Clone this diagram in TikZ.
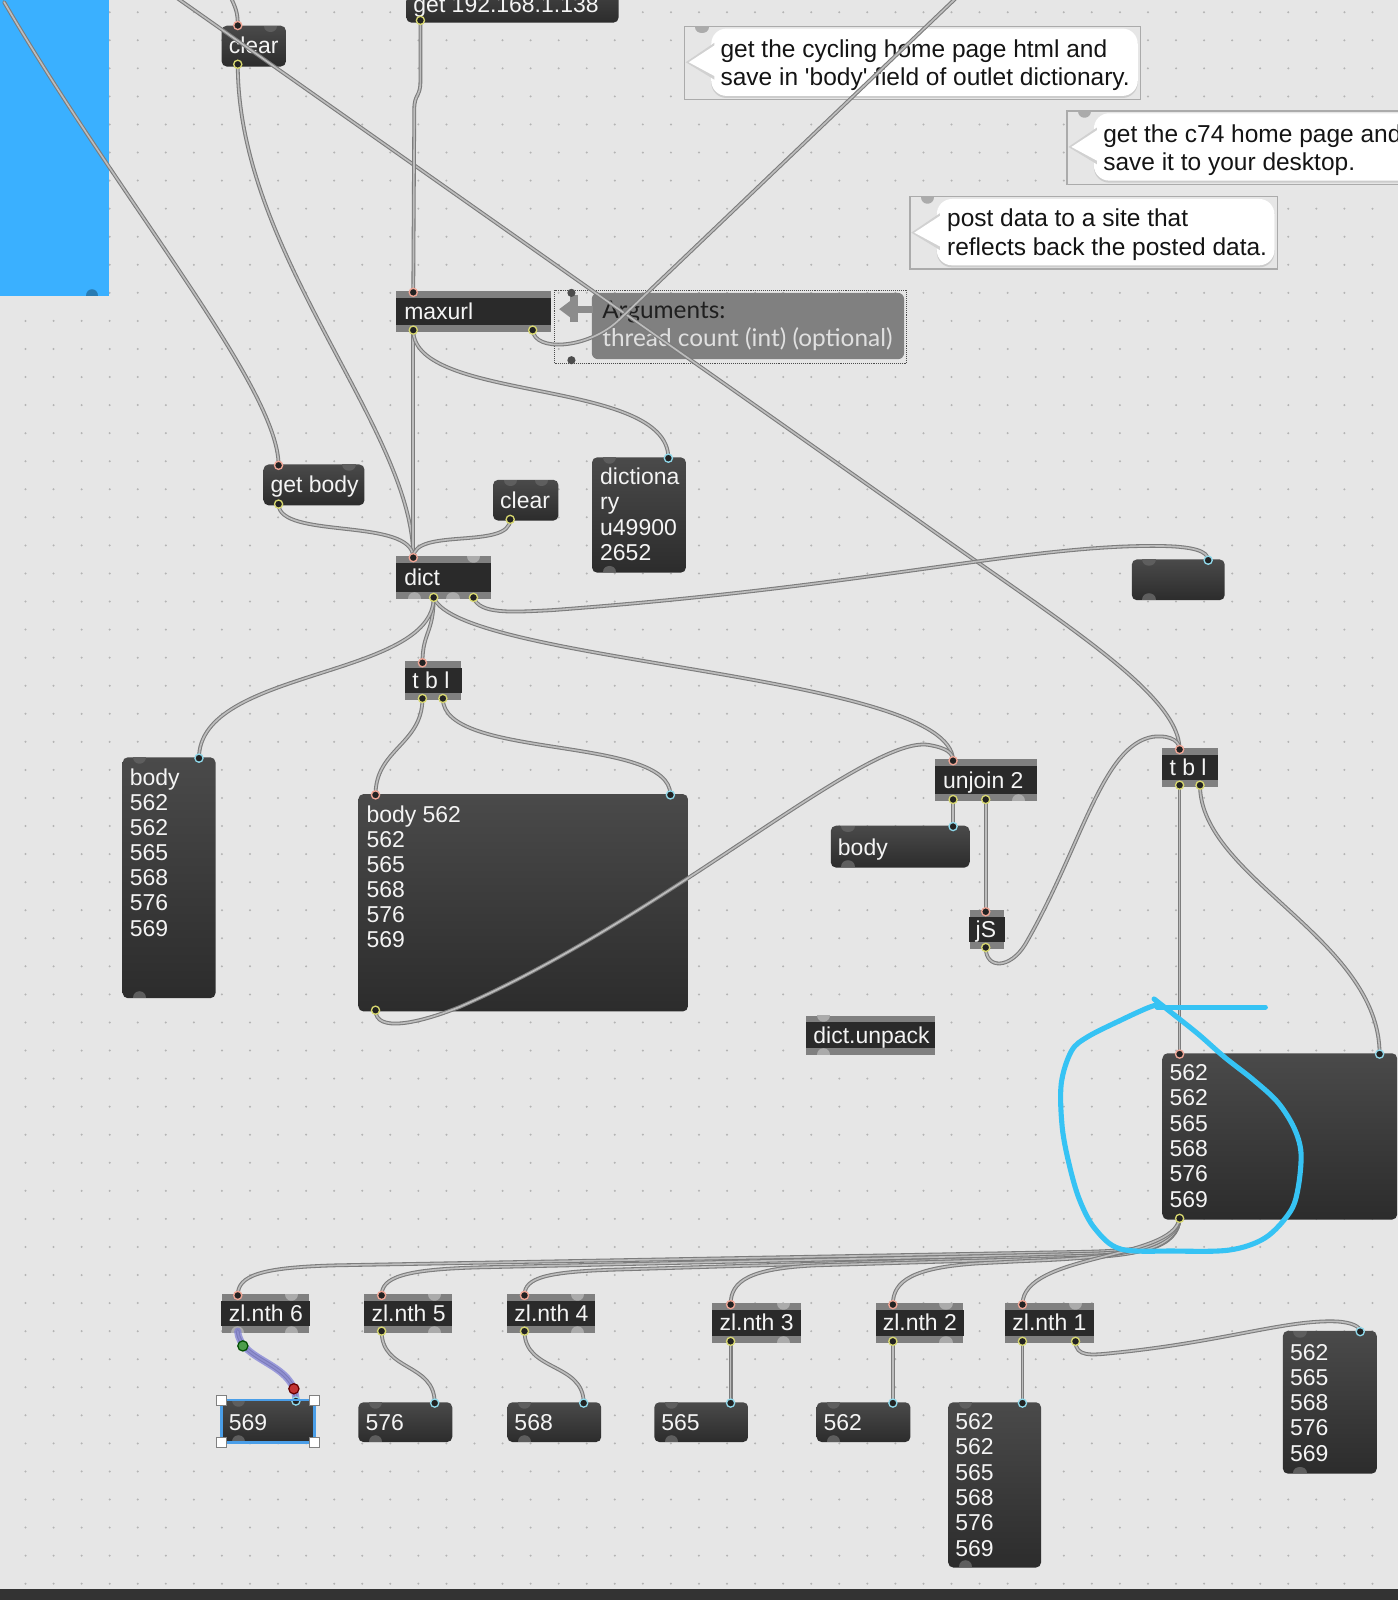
\documentclass[tikz,border=0pt]{standalone}
\usepackage{fontspec}
\setmainfont{Liberation Sans}
\newfontfamily\latofont{Lato}
\usetikzlibrary{calc}
\definecolor{bg}{HTML}{E6E6E6}
\definecolor{dotc}{HTML}{B4B4B4}
\definecolor{panelblue}{HTML}{3AB0FF}
\definecolor{objgray}{HTML}{808080}
\definecolor{objdark}{HTML}{2A2A2A}
\definecolor{msgtop}{HTML}{4A4A4A}
\definecolor{msgbot}{HTML}{2C2C2C}
\definecolor{pinc}{HTML}{F0A595}
\definecolor{poutc}{HTML}{D8D870}
\definecolor{pmsg}{HTML}{8FD8EA}
\definecolor{portfill}{HTML}{222222}
\definecolor{faintdark}{HTML}{5E5E5E}
\definecolor{faintlight}{HTML}{ABABAB}
\definecolor{cordout}{HTML}{7C7C7C}
\definecolor{cordin}{HTML}{BDBDBD}
\definecolor{annot}{HTML}{36C3F4}
\definecolor{boxtext}{HTML}{F4F4F4}
\definecolor{cmtframe}{HTML}{ABABAB}
\definecolor{assistgray}{HTML}{808080}
\definecolor{selblue}{HTML}{4A9EE8}
\definecolor{selcord}{HTML}{7B7BD6}
\tikzset{
  cord/.style={draw=cordout, line width=1.05pt, double=cordin, double distance=1.6pt, line cap=round},
  lbl/.style={text=boxtext, font=\fontsize{22.5}{25}\selectfont, inner sep=0pt},
  ctext/.style={text=black!92, font=\fontsize{24}{28}\selectfont, inner sep=0pt},
  atext/.style={font=\latofont\fontsize{23.9}{28}\selectfont, inner sep=0pt},
  msgnode/.style={rounded corners=5pt, top color=msgtop, bottom color=msgbot, inner sep=0pt},
  objnode/.style={fill=objgray, inner sep=0pt},
  annotline/.style={draw=annot, line width=5pt, line cap=round, line join=round},
}
\newcommand\msgbox[5]{\node[msgnode, anchor=north west, minimum width={#4-(#2)}, minimum height={#5-(#3)}] (#1) at (#2,#3) {};}
\newcommand\objbox[5]{\node[objnode, anchor=north west, minimum width={#4-(#2)}, minimum height={#5-(#3)}] (#1) at (#2,#3) {};
  \fill[objdark] ($(#1.north west)+(0,7)$) rectangle ($(#1.south east)+(0,-7)$);}
\newcommand\txt[4]{\node[lbl, anchor=base west] (#1) at (#2,#3) {#4};}
\newcommand\mtxt[5]{\foreach \t [count=\i from 0] in {#5} {\node[lbl, anchor=base west] (#1\i) at (#2,{#3+\i*#4}) {\t};}}
\newcommand\port[2]{\filldraw[fill=portfill, draw=#1, line width=1.3pt] (#2) circle[radius=4pt];}
\newcommand\ftop[3]{\fill[#1] (#2-6.5,#3) .. controls (#2-6.5,#3+8.7) and (#2+6.5,#3+8.7) .. (#2+6.5,#3) -- cycle;}
\newcommand\fbot[3]{\fill[#1] (#2-6.5,#3) .. controls (#2-6.5,#3-8.7) and (#2+6.5,#3-8.7) .. (#2+6.5,#3) -- cycle;}
\newcommand\bubble[7]{%
  \node[draw=cmtframe, line width=1.4pt, fill=bg, anchor=north west, minimum width={#4-(#2)}, minimum height={#5-(#3)}, inner sep=0pt] (#1) at (#2,#3) {};
  \ftop{faintlight}{#2+18}{#3+1}
  \fill[black!20, rounded corners=15pt] (#6,#3+4) rectangle (#4-2,#5-1);
  \fill[white, rounded corners=15pt] (#6,#3+3) rectangle (#4-2,#5-3);
  \fill[black!18] (#6+3,#7-19) -- (#2+2,#7) -- (#6+3,#7+17) -- cycle;
  \fill[white] (#6+4,#7-17) -- (#2+5,#7) -- (#6+4,#7+14) -- cycle;}
\begin{document}
\begin{tikzpicture}[x=1pt,y=-1pt]
\useasboundingbox (0,0) rectangle (1370,1568);
% background and grid
\fill[bg] (0,0) rectangle (1370,1568);
\foreach \x in {25,52.5,...,1370} {\foreach \y in {12,39.5,...,1555} {\fill[dotc] (\x,\y) circle[radius=1.1pt];}}
\fill[panelblue] (0,0) rectangle (107,290);
\fill[panelblue!70!black] (84,290) .. controls (84,281) and (96,281) .. (96,290) -- cycle;
\fill[black!80] (0,1557) rectangle (1370,1568);

% comments
\bubble{c1}{670}{25}{1117}{97}{697}{61}
\node[ctext, anchor=base west] (c1a) at (706,56) {get the cycling home page html and};
\node[ctext, anchor=base west] (c1b) at (706,84) {save in \textquotesingle body\textquotesingle{} field of outlet dictionary.};
\bubble{c2}{1045}{108}{1400}{180}{1072}{144}
\node[ctext, anchor=base west] (c2a) at (1081,140) {get the c74 home page and};
\node[ctext, anchor=base west] (c2b) at (1081,167) {save it to your desktop.};
\bubble{c3}{891}{192}{1251}{263}{918}{228}
\node[ctext, anchor=base west] (c3a) at (928,222) {post data to a site that};
\node[ctext, anchor=base west] (c3b) at (928,250) {reflects back the posted data.};

% assistance box
\node[draw=black!70, densely dotted, line width=0.9pt, anchor=north west, minimum width=345, minimum height=72, inner sep=0pt] (assist) at (543,284) {};
\fill[assistgray, rounded corners=6pt] (580,287) rectangle (886,352);
\fill[black!45] (548,303) -- (560,294) -- (560,312) -- cycle;
\fill[black!45] (559,289) rectangle (566,316);
\fill[black!45] (565,299.5) rectangle (581,306.5);
\fill[black!70] (560,287) circle[radius=4pt];
\fill[black!70] (560,353) circle[radius=4pt];
\node[atext, text=black!88, anchor=base west] (arg1) at (590,312) {Arguments:};
\node[atext, text=black!12, anchor=base west] (arg2) at (590,340) {thread count (int) (optional)};

% message boxes
\msgbox{clearA}{217}{25}{280}{65} \txt{clearAt}{224}{52}{clear} \ftop{faintdark}{265}{25}
\msgbox{g192}{398}{-20}{606}{22} \txt{g192t}{405}{12}{get 192.168.1.138}
\msgbox{getbody}{258}{455}{357}{495} \txt{getbodyt}{265}{483}{get body} \ftop{faintdark}{342}{455}
\msgbox{clearB}{483}{470}{547}{510} \txt{clearBt}{490}{498}{clear} \ftop{faintdark}{500}{470} \ftop{faintdark}{531}{470}
\msgbox{dictmsg}{580}{448}{672}{561} \mtxt{dictmsgt}{588}{475}{24.7}{dictiona,ry,u49900,2652} \ftop{faintdark}{597}{448} \fbot{faintdark}{597}{561}
\msgbox{blank}{1109}{548}{1200}{588} \ftop{faintdark}{1126}{548} \fbot{faintdark}{1126}{588}
\msgbox{bodylist}{120}{742}{211}{978} \mtxt{bodylistt}{127}{770}{24.55}{body,562,562,565,568,576,569} \ftop{faintdark}{137}{742} \fbot{faintdark}{137}{978}
\msgbox{bigmsg}{351}{778}{674}{991} \mtxt{bigmsgt}{359}{806}{24.6}{body 562,562,565,568,576,569}
\msgbox{bodymsg}{814}{809}{950}{850} \txt{bodymsgt}{821}{838}{body} \ftop{faintdark}{831}{809} \fbot{faintdark}{831}{850}
\msgbox{rbig}{1139}{1032}{1369}{1195} \mtxt{rbigt}{1146}{1059}{24.8}{562,562,565,568,576,569}
\msgbox{m569}{217}{1372}{308}{1413} \txt{m569t}{224}{1402}{569} \ftop{faintdark}{234}{1372} \fbot{faintdark}{234}{1413}
\msgbox{m576}{351}{1374}{443}{1413} \txt{m576t}{358}{1402}{576} \ftop{faintdark}{368}{1374} \fbot{faintdark}{368}{1413}
\msgbox{m568}{497}{1374}{589}{1413} \txt{m568t}{504}{1402}{568} \ftop{faintdark}{514}{1374} \fbot{faintdark}{514}{1413}
\msgbox{m565}{641}{1374}{733}{1413} \txt{m565t}{648}{1402}{565} \ftop{faintdark}{658}{1374} \fbot{faintdark}{658}{1413}
\msgbox{m562}{800}{1374}{892}{1413} \txt{m562t}{807}{1402}{562} \ftop{faintdark}{817}{1374} \fbot{faintdark}{817}{1413}
\msgbox{mtall}{929}{1374}{1020}{1536} \mtxt{mtallt}{936}{1401}{24.8}{562,562,565,568,576,569} \ftop{faintdark}{946}{1374} \fbot{faintdark}{946}{1536}
\msgbox{mright}{1257}{1304}{1349}{1444} \mtxt{mrightt}{1264}{1333}{24.7}{562,565,568,576,569} \ftop{faintdark}{1274}{1304} \fbot{faintdark}{1274}{1444}

% object boxes
\objbox{maxurl}{388}{285}{540}{325} \txt{maxurlt}{396}{313}{maxurl}
\objbox{dict}{388}{545}{481}{587} \txt{dictt}{396}{574}{dict} \ftop{faintlight}{464}{545} \fbot{faintlight}{406}{587} \fbot{faintlight}{444}{587}
\objbox{tbl}{397}{648}{452}{686} \txt{tblt}{404}{675}{t b l}
\objbox{unjoin}{916}{744}{1016}{785} \txt{unjoint}{924}{773}{unjoin 2} \fbot{faintlight}{998}{785}
\objbox{js}{950}{892}{984}{930} \txt{jst}{956}{919}{jS}
\objbox{tblB}{1139}{733}{1193}{771} \txt{tblBt}{1146}{760}{t b l}
\objbox{unpack}{790}{995}{916}{1034} \txt{unpackt}{797}{1023}{dict.unpack} \ftop{faintlight}{807}{995} \fbot{faintlight}{807}{1034}
\objbox{z6}{217}{1268}{303}{1306} \txt{z6t}{224}{1295}{zl.nth 6} \ftop{faintlight}{286}{1268} \fbot{faintlight}{286}{1306} \fbot{faintlight}{233}{1306}
\objbox{z5}{357}{1268}{443}{1306} \txt{z5t}{364}{1295}{zl.nth 5} \ftop{faintlight}{426}{1268} \fbot{faintlight}{426}{1306}
\objbox{z4}{497}{1268}{583}{1306} \txt{z4t}{504}{1295}{zl.nth 4} \ftop{faintlight}{566}{1268} \fbot{faintlight}{566}{1306}
\objbox{z3}{698}{1277}{785}{1316} \txt{z3t}{705}{1304}{zl.nth 3} \ftop{faintlight}{768}{1277} \fbot{faintlight}{768}{1316}
\objbox{z2}{858}{1277}{944}{1316} \txt{z2t}{865}{1304}{zl.nth 2} \ftop{faintlight}{927}{1277} \fbot{faintlight}{927}{1316}
\objbox{z1}{985}{1277}{1072}{1316} \txt{z1t}{992}{1304}{zl.nth 1} \ftop{faintlight}{1054}{1277}

% port coordinates
\coordinate (clearA-i) at (233,25); \coordinate (clearA-o) at (233,63);
\coordinate (g192-o) at (412,20);
\coordinate (max-i) at (405,286.5); \coordinate (max-o1) at (405,323.5); \coordinate (max-o2) at (522,323.5);
\coordinate (gb-i) at (273,456); \coordinate (gb-o) at (273,494);
\coordinate (clB-o) at (500,509);
\coordinate (dm-i) at (655,449);
\coordinate (dict-i) at (405,546.5); \coordinate (dict-o1) at (425,585.5); \coordinate (dict-o2) at (464,585.5);
\coordinate (blank-i) at (1184,549);
\coordinate (tbl-i) at (414,649.5); \coordinate (tbl-o1) at (414,684.5); \coordinate (tbl-o2) at (434,684.5);
\coordinate (bl-i) at (195,743);
\coordinate (big-i1) at (368,779); \coordinate (big-i2) at (657,779); \coordinate (big-o) at (368,990);
\coordinate (unj-i) at (934,745.5); \coordinate (unj-o1) at (934,783.5); \coordinate (unj-o2) at (966,783.5);
\coordinate (bm-i) at (934,810);
\coordinate (js-i) at (966,893.5); \coordinate (js-o) at (966,928.5);
\coordinate (tblB-i) at (1156,734.5); \coordinate (tblB-o1) at (1156,769.5); \coordinate (tblB-o2) at (1176,769.5);
\coordinate (rb-i1) at (1156,1033); \coordinate (rb-i2) at (1352,1033); \coordinate (rb-o) at (1156,1194);
\coordinate (z6-i) at (233,1269.5); \coordinate (z6-o) at (233,1304.5);
\coordinate (z5-i) at (374,1269.5); \coordinate (z5-o) at (374,1304.5);
\coordinate (z4-i) at (514,1269.5); \coordinate (z4-o) at (514,1304.5);
\coordinate (z3-i) at (716,1278.5); \coordinate (z3-o) at (716,1314.5);
\coordinate (z2-i) at (875,1278.5); \coordinate (z2-o) at (875,1314.5);
\coordinate (z1-i) at (1002,1278.5); \coordinate (z1-o1) at (1002,1314.5); \coordinate (z1-o2) at (1054,1314.5);
\coordinate (m569-i) at (290,1373); \coordinate (m576-i) at (426,1375); \coordinate (m568-i) at (572,1375);
\coordinate (m565-i) at (716,1375); \coordinate (m562-i) at (875,1375); \coordinate (mt-i) at (1002,1375);
\coordinate (mr-i) at (1333,1305);
\coordinate (tl-start) at (4,2); \coordinate (top-a) at (226,-3); \coordinate (diag-start) at (172,-3); \coordinate (ne-end) at (938,-3);

% patch cords
\draw[cord] (tl-start) .. controls (120,200) and (273,380) .. (gb-i);
\draw[cord] (top-a) .. controls (231,8) and (233,12) .. (clearA-i);
\draw[cord] (diag-start) -- (900,510) .. controls (1040,610) and (1156,680) .. (tblB-i);
\draw[cord] (clearA-o) .. controls (233,250) and (405,420) .. (dict-i);
\draw[cord] (g192-o) -- (412,80) .. controls (412,95) and (406,92) .. (406,107) -- (max-i);
\draw[cord] (max-o1) -- (dict-i);
\draw[cord] (max-o1) .. controls (405,395) and (655,370) .. (dm-i);
\draw[cord] (max-o2) .. controls (524,345) and (575,342) .. (605,315) -- (ne-end);
\draw[cord] (gb-o) .. controls +(0,35) and +(0,-40) .. (dict-i);
\draw[cord] (clB-o) .. controls +(0,30) and +(0,-30) .. (dict-i);
\draw[cord] (dict-o1) .. controls +(0,35) and +(0,-30) .. (tbl-i);
\draw[cord] (dict-o1) .. controls (425,665) and (195,655) .. (bl-i);
\draw[cord] (dict-o1) .. controls (450,650) and (934,660) .. (unj-i);
\draw[cord] (dict-o2) .. controls (470,602) and (500,600) .. (540,598) .. controls (850,575) and (1000,535) .. (1130,535) .. controls (1170,535) and (1184,540) .. (blank-i);
\draw[cord] (tbl-o1) .. controls +(0,45) and +(0,-45) .. (big-i1);
\draw[cord] (tbl-o2) .. controls (434,745) and (657,720) .. (big-i2);
\draw[cord] (big-o) .. controls (368,1012) and (410,1003) .. (450,987) .. controls (650,900) and (850,720) .. (910,730) .. controls (928,733) and (934,738) .. (unj-i);
\draw[cord] (unj-o1) -- (bm-i);
\draw[cord] (unj-o2) -- (js-i);
\draw[cord] (js-o) .. controls (966,950) and (990,950) .. (1005,925) .. controls (1060,830) and (1080,730) .. (1130,722) .. controls (1150,720) and (1156,728) .. (tblB-i);
\draw[cord] (tblB-o1) -- (rb-i1);
\draw[cord] (tblB-o2) .. controls (1176,860) and (1352,920) .. (rb-i2);
\draw[cord] (rb-o) .. controls (1154,1222) and (1120,1226) .. (1050,1227) -- (330,1240) .. controls (255,1242) and (233,1250) .. (z6-i);
\draw[cord] (rb-o) .. controls (1154,1223) and (1120,1228) .. (1050,1229) -- (470,1242) .. controls (395,1244) and (374,1252) .. (z5-i);
\draw[cord] (rb-o) .. controls (1153,1224) and (1120,1230) .. (1050,1231) -- (610,1244) .. controls (535,1246) and (514,1252) .. (z4-i);
\draw[cord] (rb-o) .. controls (1152,1225) and (1110,1232) .. (1040,1233) -- (800,1240) .. controls (735,1243) and (716,1255) .. (z3-i);
\draw[cord] (rb-o) .. controls (1150,1228) and (1080,1233) .. (1000,1236) -- (960,1238) .. controls (895,1242) and (875,1255) .. (z2-i);
\draw[cord] (rb-o) .. controls (1150,1235) and (1002,1228) .. (z1-i);
\draw[cord] (z1-o2) .. controls (1054,1330) and (1070,1328) .. (1090,1326) .. controls (1200,1315) and (1260,1293) .. (1310,1295) .. controls (1325,1296) and (1333,1300) .. (mr-i);
\draw[cord] (z5-o) .. controls +(0,40) and +(0,-40) .. (m576-i);
\draw[cord] (z4-o) .. controls +(0,40) and +(0,-40) .. (m568-i);
\draw[cord] (z3-o) -- (m565-i);
\draw[cord] (z2-o) -- (m562-i);
\draw[cord] (z1-o1) -- (mt-i);
\draw[cord] (z6-o) .. controls (235,1335) and (290,1335) .. (m569-i);
\draw[selcord, line width=7pt, opacity=0.7, line cap=round] (z6-o) .. controls (235,1335) and (290,1335) .. (m569-i);

% ports
\port{pinc}{clearA-i} \port{poutc}{clearA-o}
\port{poutc}{g192-o}
\port{pinc}{max-i} \port{poutc}{max-o1} \port{poutc}{max-o2}
\port{pinc}{gb-i} \port{poutc}{gb-o}
\port{poutc}{clB-o}
\port{pmsg}{dm-i}
\port{pinc}{dict-i} \port{poutc}{dict-o1} \port{poutc}{dict-o2}
\port{pmsg}{blank-i}
\port{pinc}{tbl-i} \port{poutc}{tbl-o1} \port{poutc}{tbl-o2}
\port{pmsg}{bl-i}
\port{pinc}{big-i1} \port{pmsg}{big-i2} \port{poutc}{big-o}
\port{pinc}{unj-i} \port{poutc}{unj-o1} \port{poutc}{unj-o2}
\port{pmsg}{bm-i}
\port{pinc}{js-i} \port{poutc}{js-o}
\port{pinc}{tblB-i} \port{poutc}{tblB-o1} \port{poutc}{tblB-o2}
\port{pinc}{rb-i1} \port{pmsg}{rb-i2} \port{poutc}{rb-o}
\port{pinc}{z6-i} \port{pinc}{z5-i} \port{poutc}{z5-o} \port{pinc}{z4-i} \port{poutc}{z4-o}
\port{pinc}{z3-i} \port{poutc}{z3-o} \port{pinc}{z2-i} \port{poutc}{z2-o}
\port{pinc}{z1-i} \port{poutc}{z1-o1} \port{poutc}{z1-o2}
\port{pmsg}{m569-i} \port{pmsg}{m576-i} \port{pmsg}{m568-i} \port{pmsg}{m565-i} \port{pmsg}{m562-i} \port{pmsg}{mt-i} \port{pmsg}{mr-i}

% selection of the 569 message
\draw[selblue, line width=2.5pt] (m569.north west) rectangle (m569.south east);
\foreach \c in {north west, north east, south west, south east}
  {\filldraw[fill=white, draw=black!50, line width=0.8pt] ($(m569.\c)+(-5,-5)$) rectangle ($(m569.\c)+(5,5)$);}
\filldraw[fill=green!45!black!70!white, draw=green!30!black, line width=1.2pt] (238,1319) circle[radius=5pt];
\filldraw[fill=red!70!black!80!white, draw=red!40!black, line width=1.2pt] (288,1361) circle[radius=5pt];

% hand-drawn annotation
\draw[annotline] plot[smooth, tension=0.55] coordinates {(1131,979) (1150,994) (1175,1014) (1200,1036) (1228,1058) (1252,1080) (1268,1105) (1275,1130) (1272,1165) (1264,1188) (1240,1213) (1205,1225) (1150,1226) (1098,1224) (1073,1204) (1058,1176) (1048,1142) (1041,1105) (1040,1062) (1050,1030) (1066,1016) (1100,999) (1124,988) (1136,984)};
\draw[annotline] (1134,987) -- (1240,987);
\end{tikzpicture}
\end{document}
